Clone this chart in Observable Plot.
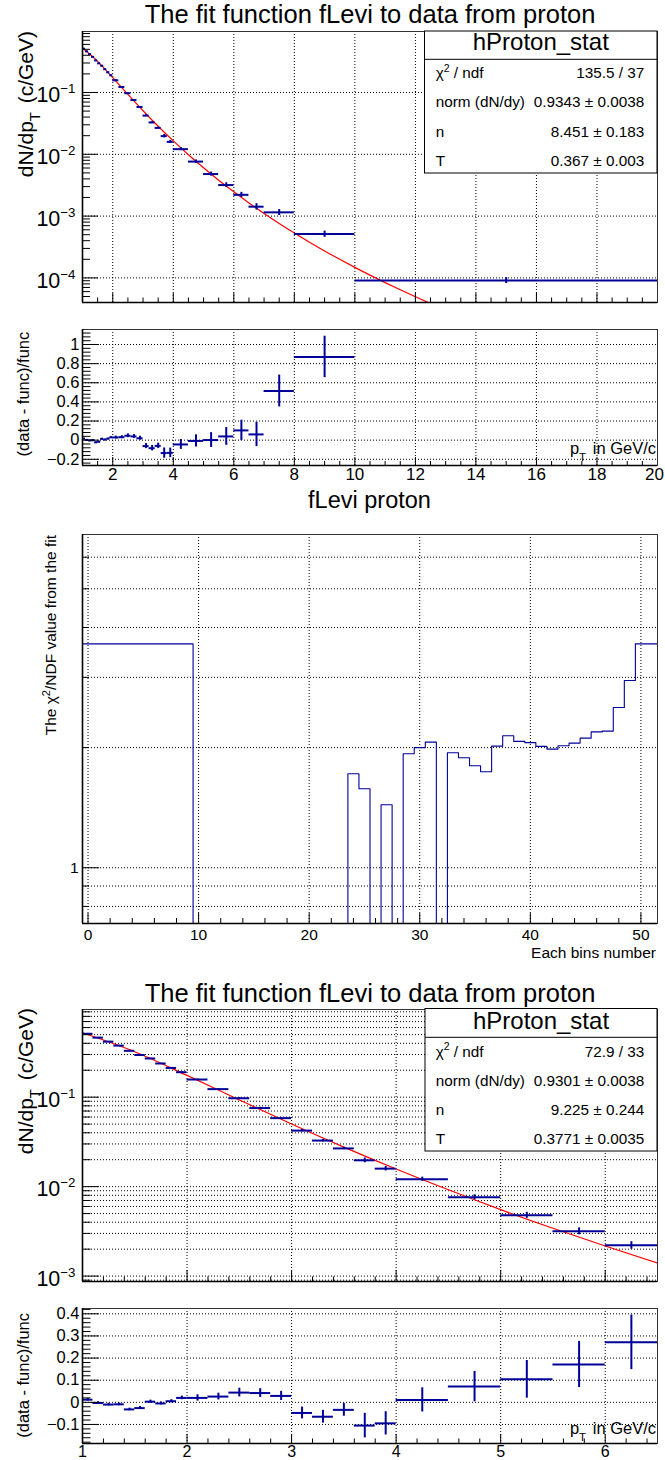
<!DOCTYPE html>
<html><head><meta charset="utf-8">
<script src="https://cdn.jsdelivr.net/npm/d3@7"></script>
<script src="https://cdn.jsdelivr.net/npm/@observablehq/plot@0.6"></script>
<style>
html,body{margin:0;padding:0;background:#fff;overflow:hidden;}
#root{position:relative;width:665px;height:1460px;overflow:hidden;background:#fff;}
#root svg{position:absolute;left:0;}
</style></head><body><div id="root"></div>
<script>
// ---------------- DATA ----------------
// pT bin edges (GeV/c)
const binEdges = [1.0,1.1,1.2,1.3,1.4,1.5,1.6,1.7,1.8,1.9,2.0,2.2,2.4,2.6,2.8,3.0,3.2,3.4,3.6,3.8,4.0,4.5,5.0,5.5,6.0,6.5,7.0,8.0,10.0,20.0];
// dN/dpT per bin (c/GeV)
const dNdpT = [0.5115,0.4629,0.4177,0.3771,0.3300,0.2960,0.2707,0.2379,0.2123,0.1902,
  0.1575,0.1230,0.09725,0.07557,0.05829,0.04229,0.03273,0.02674,0.01969,0.01589,
  0.01211,0.007616,0.00479,0.003178,0.002209,0.00142,0.00115,0.000512,0.000091];
// relative statistical error per bin
const relErr = [0.006,0.006,0.006,0.006,0.006,0.007,0.007,0.007,0.007,0.008,
  0.014,0.015,0.019,0.019,0.020,0.028,0.031,0.030,0.062,0.058,
  0.054,0.064,0.077,0.089,0.097,0.120,0.110,0.116,0.110];
// (data - func)/func, fit over full range
const residualFull = [0.015,0.002,-0.004,-0.001,-0.023,-0.017,0.013,0.005,0.015,0.029,
  0.028,0.031,0.046,0.039,0.020,-0.062,-0.084,-0.060,-0.135,-0.133,
  -0.045,-0.008,0.001,0.039,0.102,0.060,0.514,0.870,null];
// (data - func)/func, fit over 1-6.5 GeV/c
const residualLow = [0.012,-0.003,-0.010,-0.009,-0.032,-0.026,0.003,-0.005,0.005,0.020,
  0.020,0.026,0.044,0.042,0.029,-0.048,-0.065,-0.034,-0.105,-0.095,
  0.011,0.071,0.104,0.171,0.271,null,null,null,null];
// fitted fLevi curve (full fit), sampled
const fitFullX = [1,1.5,2,2.5,3,3.5,4,4.5,5,5.5,6,6.5,7,7.5,8,8.5,9,9.5,10,10.5,11,11.5,12,12.5];
const fitFullY = [0.524,0.3191,0.1737,0.09298,0.0507,0.02846,0.01647,0.009832,0.006043,0.003814,0.00247,0.001635,
  0.001104,0.0007601,0.0005322,0.0003785,0.0002734,0.0002,0.0001481,0.0001108,0.0000839,0.0000642,0.0000495,0.0000385];
// fitted fLevi curve (1-6.5 fit), sampled
const fitLowX = [1,1.5,2,2.5,3,3.5,4,4.5,5,5.5,6,6.5];
const fitLowY = [0.5249,0.32203,0.17509,0.09315,0.05015,0.02768,0.015734,0.009215,0.005538,0.003422,0.002169,0.001402];
// chi2/NDF per bin number (0 = empty bin)
const chi2PerBin = [3.64,3.64,3.64,3.64,3.64,3.64,3.64,3.64,3.64,3.64,
  0,0,0,0,0,0,0,0,0,0,0,0,0,0,
  1.72,1.578,0,1.439,0,1.931,2.0,2.065,0,1.942,1.887,1.802,1.74,2.017,2.142,2.073,2.058,2.014,
  1.983,2.022,2.053,2.113,2.19,2.2,2.522,2.947,3.64,3.64];
// stats boxes
const statsLabels = ["χ2 / ndf","norm (dN/dy)","n","T"];
const statsFull = ["135.5 / 37","0.9343 ± 0.0038","8.451 ± 0.183","0.367 ± 0.003"];
const statsLow = ["72.9 / 33","0.9301 ± 0.0038","9.225 ± 0.244","0.3771 ± 0.0035"];
const histName = "hProton_stat";
const mainTitle = "The fit function fLevi to data from proton";
const midTitle = "fLevi proton";

// ---------------- HELPERS ----------------
const W = 665, ML = 82, MR = 8, FW = W - ML - MR;
const FONT = '"Liberation Sans", Arial, Helvetica, sans-serif';
const BLUE = "#000099", RED = "#ff0000";
const GRID = {stroke: "#000", strokeWidth: 1, strokeDasharray: "1,2"};
const root = document.getElementById("root");

function steps(a, b, s) { const out = []; const n = Math.round((b - a) / s); for (let i = 0; i <= n; i++) out.push(Math.round((a + i * s) * 1e6) / 1e6); return out; }
function logAll(e0, e1) { const out = []; for (let e = e0; e <= e1; e++) for (let k = 1; k <= 9; k++) out.push(+(k * Math.pow(10, e)).toPrecision(6)); return out; }
const within = (arr, [a, b]) => arr.filter(v => v >= a - 1e-12 && v <= b + 1e-12);
const minus = (all, major) => all.filter(v => !major.some(m => Math.abs(m - v) <= 1e-6 * Math.max(Math.abs(v), 1e-9)));
const linFmt = d => { const r = Math.round(d * 100) / 100; if (r === 0) return "0"; return (r < 0 ? "−" : "") + String(Math.abs(r)); };
const expFmt = d => "10^" + Math.round(Math.log10(d));

const rows = dNdpT.map((v, i) => {
  const lo = binEdges[i], hi = binEdges[i + 1];
  return {lo, hi, c: (lo + hi) / 2, v, rel: relErr[i], r1: residualFull[i], r2: residualLow[i]};
});

function makePanel(o) {
  const FH = o.height - o.mt - o.mb;
  const [x0, x1] = o.xDomain, [y0, y1] = o.yDomain;
  const kx = (x1 - x0) / FW;
  const yUp = o.yLog ? px => y0 * Math.pow(10, px * Math.log10(y1 / y0) / FH) : px => y0 + px * (y1 - y0) / FH;
  const marks = [
    Plot.ruleX(o.xGrid, {x: d => d, ...GRID}),
    Plot.ruleY(o.yGrid, {y: d => d, ...GRID}),
    ...o.marks,
    Plot.ruleX(o.xMajor, {x: d => d, y1: () => y0, y2: () => yUp(o.xLen[0]), stroke: "#000", strokeWidth: 1}),
    Plot.ruleX(o.xMinor, {x: d => d, y1: () => y0, y2: () => yUp(o.xLen[1]), stroke: "#000", strokeWidth: 1}),
    Plot.ruleY(o.yMajor, {y: d => d, x1: () => x0, x2: () => x0 + o.yLen[0] * kx, stroke: "#000", strokeWidth: 1}),
    Plot.ruleY(o.yMinor, {y: d => d, x1: () => x0, x2: () => x0 + o.yLen[1] * kx, stroke: "#000", strokeWidth: 1}),
    Plot.frame({stroke: "#333", strokeWidth: 1}),
    Plot.ruleX([x0], {stroke: "#000", strokeWidth: 1.6}),
    Plot.ruleY([y0], {stroke: "#000", strokeWidth: 1.6}),
    Plot.axisY({ticks: o.yLabels, tickSize: 0, tickPadding: o.yPad, tickFormat: o.yFmt, fontSize: o.yFont, label: null})
  ];
  if (o.xLabels) marks.push(Plot.axisX({ticks: o.xLabels, tickSize: 0, tickPadding: o.xPad, tickFormat: d => String(d), fontSize: o.xFont, label: null}));
  const svg = Plot.plot({
    width: W, height: o.height,
    marginLeft: ML, marginRight: MR, marginTop: o.mt, marginBottom: o.mb,
    x: o.xLabels ? {domain: o.xDomain} : {domain: o.xDomain, axis: null},
    y: {type: o.yLog ? "log" : "linear", domain: o.yDomain},
    style: {fontFamily: FONT, background: "transparent", overflow: "visible", color: "#000"},
    marks
  });
  // superscript exponents on log labels
  svg.querySelectorAll('g[aria-label="y-axis tick label"] text').forEach(t => {
    const m = /^10\^(.+)$/.exec(t.textContent);
    if (!m) return;
    t.textContent = "10";
    t.setAttribute("y", "0.45em");
    const ts = document.createElementNS("http://www.w3.org/2000/svg", "tspan");
    ts.setAttribute("font-size", (o.yFont * 0.62).toFixed(1));
    ts.setAttribute("dy", (-0.42 * o.yFont).toFixed(1));
    ts.textContent = m[1].replace("-", "−");
    t.appendChild(ts);
  });
  // keep the right-most x label inside the page
  const xl = svg.querySelectorAll('g[aria-label="x-axis tick label"] text');
  if (xl.length && o.xLabels[o.xLabels.length - 1] === x1) xl[xl.length - 1].setAttribute("dx", "-3");
  svg.style.top = o.top + "px";
  root.appendChild(svg);
}

// ---------------- PANEL 1: full-range spectrum ----------------
{
  const xD = [1, 20], yD = [4e-5, 0.97];
  const xMaj = steps(2, 20, 2), yMaj = [1e-4, 1e-3, 1e-2, 1e-1];
  const fit = fitFullX.map((x, i) => ({x, y: fitFullY[i]}));
  makePanel({
    top: 0, height: 310, mt: 31, mb: 8, xDomain: xD, yDomain: yD, yLog: true,
    xGrid: steps(2, 18, 2), yGrid: yMaj,
    xMajor: xMaj, xMinor: minus(steps(1, 20, 0.5), xMaj), xLen: [9, 4.5],
    yMajor: yMaj, yMinor: minus(within(logAll(-5, -1), yD), yMaj), yLen: [16, 8],
    yLabels: yMaj, yFmt: expFmt, yFont: 21.5, yPad: 7,
    marks: [
      Plot.line(fit, {x: "x", y: "y", stroke: RED, strokeWidth: 1.2, curve: "monotone-x", clip: true}),
      Plot.ruleY(rows, {y: "v", x1: "lo", x2: "hi", stroke: BLUE, strokeWidth: 2, clip: true}),
      Plot.ruleX(rows, {x: "c", y1: d => d.v * (1 - d.rel), y2: d => d.v * (1 + d.rel), stroke: BLUE, strokeWidth: 2, clip: true})
    ]
  });
}
// ---------------- PANEL 2: residuals full fit ----------------
{
  const xD = [1, 20], yD = [-0.265, 1.157];
  const xMaj = steps(2, 20, 2), yMaj = steps(-0.2, 1.0, 0.2);
  const rr = rows.filter(d => d.r1 != null);
  makePanel({
    top: 310, height: 180, mt: 19, mb: 25, xDomain: xD, yDomain: yD, yLog: false,
    xGrid: steps(2, 18, 2), yGrid: yMaj,
    xMajor: xMaj, xMinor: minus(steps(1, 20, 0.5), xMaj), xLen: [8, 4],
    yMajor: yMaj, yMinor: minus(within(steps(-0.24, 1.12, 0.04), yD), yMaj), yLen: [17, 8.5],
    yLabels: yMaj, yFmt: linFmt, yFont: 16.5, yPad: 3,
    xLabels: xMaj, xFont: 17, xPad: 2,
    marks: [
      Plot.ruleY(rr, {y: "r1", x1: "lo", x2: "hi", stroke: BLUE, strokeWidth: 2, clip: true}),
      Plot.ruleX(rr, {x: "c", y1: d => d.r1 - d.rel * (1 + d.r1), y2: d => d.r1 + d.rel * (1 + d.r1), stroke: BLUE, strokeWidth: 2, clip: true})
    ]
  });
}
// ---------------- PANEL 3: chi2/NDF per bin ----------------
{
  const xD = [-0.5, 51.5], yD = [0.725, 6.84];
  const pts = [];
  chi2PerBin.forEach((v, i) => { const y = v > 0 ? v : yD[0]; pts.push({x: i - 0.5, y}, {x: i + 0.5, y}); });
  const yMin = [0.8, 0.9, 2, 3, 4, 5, 6];
  makePanel({
    top: 515, height: 445, mt: 19, mb: 37, xDomain: xD, yDomain: yD, yLog: true,
    xGrid: steps(0, 50, 10), yGrid: [0.8, 0.9, 1, 2, 3, 4, 5, 6],
    xMajor: steps(0, 50, 10), xMinor: minus(steps(0, 50, 2), steps(0, 50, 10)), xLen: [10, 5],
    yMajor: [1], yMinor: yMin, yLen: [17, 7],
    yLabels: [1], yFmt: d => String(d), yFont: 15.5, yPad: 4,
    xLabels: steps(0, 50, 10), xFont: 15.5, xPad: 5,
    marks: [
      Plot.line(pts, {x: "x", y: "y", stroke: BLUE, strokeWidth: 1.1, clip: true})
    ]
  });
}
// ---------------- PANEL 4: low-range spectrum ----------------
{
  const xD = [1, 6.5], yD = [8.7e-4, 0.955];
  const yMaj = [1e-3, 1e-2, 1e-1];
  const fit = fitLowX.map((x, i) => ({x, y: fitLowY[i]}));
  const lr = rows.filter(d => d.hi <= 6.5 + 1e-9);
  makePanel({
    top: 1005, height: 285, mt: 4, mb: 9, xDomain: xD, yDomain: yD, yLog: true,
    xGrid: steps(2, 6, 1), yGrid: within(logAll(-4, -1), yD),
    xMajor: steps(1, 6, 1), xMinor: minus(steps(1, 6.4, 0.2), steps(1, 6, 1)), xLen: [11, 4.5],
    yMajor: yMaj, yMinor: minus(within(logAll(-4, -1), yD), yMaj), yLen: [17, 8.5],
    yLabels: yMaj, yFmt: expFmt, yFont: 21.5, yPad: 7,
    marks: [
      Plot.line(fit, {x: "x", y: "y", stroke: RED, strokeWidth: 1.2, curve: "monotone-x", clip: true}),
      Plot.ruleY(lr, {y: "v", x1: "lo", x2: "hi", stroke: BLUE, strokeWidth: 2, clip: true}),
      Plot.ruleX(lr, {x: "c", y1: d => d.v * (1 - d.rel), y2: d => d.v * (1 + d.rel), stroke: BLUE, strokeWidth: 2, clip: true})
    ]
  });
}
// ---------------- PANEL 5: residuals low fit ----------------
{
  const xD = [1, 6.5], yD = [-0.186, 0.424];
  const yMaj = steps(-0.1, 0.4, 0.1);
  const rr = rows.filter(d => d.r2 != null);
  makePanel({
    top: 1290, height: 170, mt: 18, mb: 17, xDomain: xD, yDomain: yD, yLog: false,
    xGrid: steps(2, 6, 1), yGrid: yMaj,
    xMajor: steps(1, 6, 1), xMinor: minus(steps(1, 6.4, 0.2), steps(1, 6, 1)), xLen: [9, 4.5],
    yMajor: yMaj, yMinor: minus(within(steps(-0.18, 0.42, 0.02), yD), yMaj), yLen: [17, 8.5],
    yLabels: yMaj, yFmt: linFmt, yFont: 16.5, yPad: 3,
    xLabels: steps(1, 6, 1), xFont: 16, xPad: 2.5,
    marks: [
      Plot.ruleY(rr, {y: "r2", x1: "lo", x2: "hi", stroke: BLUE, strokeWidth: 2, clip: true}),
      Plot.ruleX(rr, {x: "c", y1: d => d.r2 - d.rel * (1 + d.r2), y2: d => d.r2 + d.rel * (1 + d.r2), stroke: BLUE, strokeWidth: 2, clip: true})
    ]
  });
}

// ---------------- OVERLAY TEXT ----------------
const ov = d3.create("svg").attr("width", W).attr("height", 1460)
  .style("top", "0px").style("left", "0px").attr("font-family", FONT).attr("fill", "#000");
function txt(x, y, parts, size, anchor = "start", rotate = 0) {
  const t = ov.append("text").attr("transform", `translate(${x},${y}) rotate(${rotate})`)
    .attr("font-size", size).attr("text-anchor", anchor);
  parts.forEach(p => {
    const s = t.append("tspan").text(typeof p === "string" ? p : p.t);
    if (p.dy) s.attr("dy", p.dy);
    if (p.dx) s.attr("dx", p.dx);
    if (p.size) s.attr("font-size", p.size);
  });
  return t;
}
const sub = (base, sz, rest, restDx = 0) => [base, {t: "T", dy: 0.35 * sz, size: 0.7 * sz}, {t: rest, dy: -0.35 * sz, dx: restDx}];

txt(370, 23.3, [mainTitle], 25.5, "middle");
txt(369.5, 508, [midTitle], 23.5, "middle");
txt(370, 1001.7, [mainTitle], 25.5, "middle");

txt(33, 31, sub("dN/dp", 21, " (c/GeV)", 3), 21, "end", -90);
txt(33, 1008, sub("dN/dp", 21, " (c/GeV)", 3), 21, "end", -90);
txt(29, 331.7, ["(data - func)/func"], 16.5, "end", -90);
txt(29, 1313, ["(data - func)/func"], 16.5, "end", -90);
txt(56, 535, ["The χ", {t: "2", dy: -0.4 * 15.5, size: 11}, {t: "/NDF value from the fit", dy: 0.4 * 15.5}], 15.5, "end", -90);

txt(656, 454, ["p", {t: "T", dy: 7, size: 11.5}, {t: " in GeV/c", dy: -7, dx: 2}], 16.5, "end");
txt(656, 1434, ["p", {t: "T", dy: 7, size: 11.5}, {t: " in GeV/c", dy: -7, dx: 2}], 16.5, "end");
txt(656, 958, ["Each bins number"], 15.5, "end");

function statsBox(x0, y0, x1, y1, divY, headBase, rowBase, values) {
  ov.append("rect").attr("x", x0).attr("y", y0).attr("width", x1 - x0).attr("height", y1 - y0)
    .attr("fill", "#fff").attr("stroke", "#000").attr("stroke-width", 1);
  ov.append("line").attr("x1", x0).attr("x2", x1).attr("y1", divY).attr("y2", divY).attr("stroke", "#000").attr("stroke-width", 1);
  txt((x0 + x1) / 2, headBase, [histName], 24, "middle");
  statsLabels.forEach((lab, i) => {
    if (lab.startsWith("χ2")) txt(435.7, rowBase[i], ["χ", {t: "2", dy: -6.5, size: 10.5}, {t: " / ndf", dy: 6.5}], 15.3, "start");
    else txt(435.7, rowBase[i], [lab], 15.3, "start");
    txt(644.3, rowBase[i], [values[i]], 15.3, "end");
  });
}
statsBox(424.5, 31, 657, 173, 59.3, 50, [78.3, 107.4, 136.5, 165.6], statsFull);
statsBox(425, 1008.5, 657, 1151, 1037.3, 1028.5, [1056.7, 1085.8, 1114.9, 1144], statsLow);

root.appendChild(ov.node());
</script></body></html>
